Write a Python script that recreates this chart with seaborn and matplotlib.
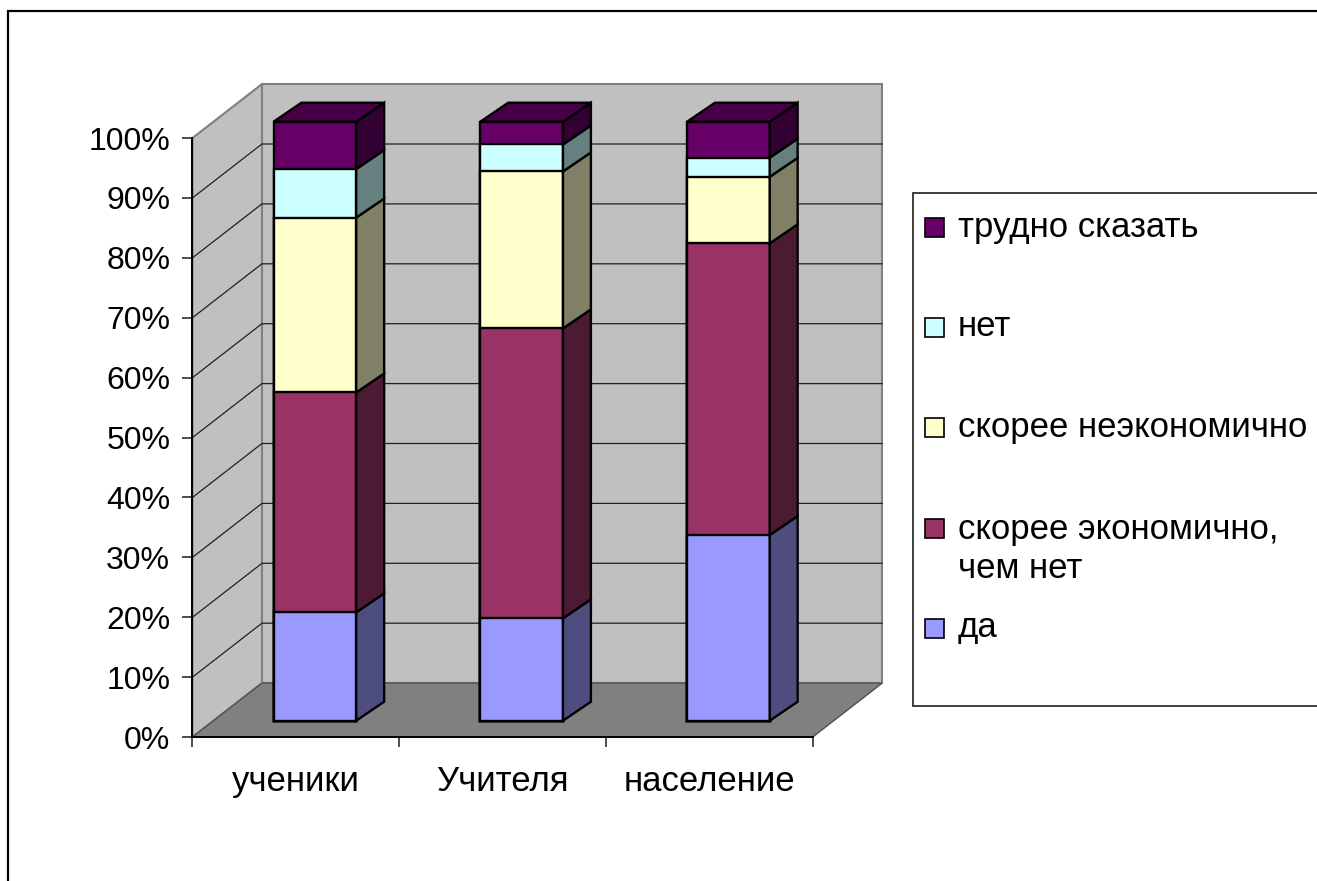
import matplotlib
matplotlib.use("Agg")
import matplotlib.pyplot as plt
import numpy as np
import seaborn as sns
from matplotlib.patches import Polygon, Rectangle

# --- data (percent of respondents) ---
categories = ["ученики", "Учителя", "население"]
series_names = ["да", "скорее экономично,\nчем нет", "скорее неэкономично", "нет", "трудно сказать"]
da = [18.1, 17.1, 31.0]
ekonomichno = [36.7, 48.4, 48.7]
neekonomichno = [29.2, 26.2, 11.1]
net = [8.1, 4.5, 3.2]
trudno = [7.9, 3.8, 6.0]
y_ticks = list(range(0, 101, 10))

# Excel 2003 style palette: front, side faces
front_colors = ["#9999ff", "#993366", "#ffffcc", "#ccffff", "#660066"]
side_colors = ["#4d4d80", "#4d1a33", "#808066", "#668080", "#330033"]
top_color = "#470046"

# --- pseudo 3d geometry in data units ---
BAR_W = 0.4
DEPTH_DX, DEPTH_DY = 0.135, 3.17      # bar depth
FRONT_X0, FRONT_Y0 = -0.592, -2.72    # front corner of the box
WALL_DX, WALL_DY = 0.336, 9.0         # box depth

sns.set_style("white")
plt.rcParams["font.family"] = ["Liberation Sans", "DejaVu Sans"]
plt.rcParams["text.color"] = "black"

fig = plt.figure(figsize=(13.17, 8.81), dpi=100)
ax = fig.add_axes([0, 0, 1, 1])
ax.set_facecolor("none")

values = np.array([da, ekonomichno, neekonomichno, net, trudno], dtype=float)
pct = values / values.sum(axis=0) * 100
tops = pct.cumsum(axis=0)
bottoms = tops - pct

fl, fr = FRONT_X0, FRONT_X0 + len(categories)
bl, br = fl + WALL_DX, fr + WALL_DX
fb, bb = FRONT_Y0, FRONT_Y0 + WALL_DY

# walls and floor
ax.add_patch(Rectangle((bl, bb), br - bl, 100, facecolor="#c0c0c0",
                       edgecolor="#808080", lw=1.5, zorder=0))
ax.add_patch(Polygon([(fl, fb), (bl, bb), (bl, bb + 100), (fl, fb + 100)],
                     closed=True, facecolor="#c0c0c0", edgecolor="#808080", lw=1.5, zorder=0))
ax.add_patch(Polygon([(fl, fb), (fr, fb), (br, bb), (bl, bb)],
                     closed=True, facecolor="#808080", edgecolor="#505050", lw=1.0, zorder=0.5))
for t in y_ticks[1:-1]:
    ax.plot([fl, bl, br], [fb + t, bb + t, bb + t], color="#202020", lw=0.9, zorder=1)

# front faces: overlapping cumulative bars, tallest first
for k in range(len(series_names) - 1, -1, -1):
    sns.barplot(x=categories, y=tops[k], color=front_colors[k], saturation=1,
                width=BAR_W, edgecolor="black", linewidth=1.7, errorbar=None,
                ax=ax, zorder=3)

# side and top faces
for i in range(len(categories)):
    xl, xr = i - BAR_W / 2, i + BAR_W / 2
    for k in range(len(series_names)):
        b, t = bottoms[k, i], tops[k, i]
        ax.add_patch(Polygon([(xr, b), (xr + DEPTH_DX, b + DEPTH_DY),
                              (xr + DEPTH_DX, t + DEPTH_DY), (xr, t)],
                             closed=True, facecolor=side_colors[k],
                             edgecolor="black", lw=1.7, zorder=3))
    t = tops[-1, i]
    ax.add_patch(Polygon([(xl, t), (xl + DEPTH_DX, t + DEPTH_DY),
                          (xr + DEPTH_DX, t + DEPTH_DY), (xr, t)],
                         closed=True, facecolor=top_color,
                         edgecolor="black", lw=1.7, zorder=3))

ax.set_xlim(-1.523, 4.847)
ax.set_ylim(-26.76, 120.32)

# axes on the front plane of the box
for side in ["top", "right"]:
    ax.spines[side].set_visible(False)
ax.spines["left"].set_position(("data", fl))
ax.spines["left"].set_bounds(fb, fb + 100)
ax.spines["bottom"].set_position(("data", fb))
ax.spines["bottom"].set_bounds(fl, fr)
for side in ["left", "bottom"]:
    ax.spines[side].set_color("black")
    ax.spines[side].set_linewidth(1.4)
    ax.spines[side].set_zorder(2)

ax.set_yticks([fb + t for t in y_ticks], [f"{t}%" for t in y_ticks])
ax.set_xticks([fl + i for i in range(len(categories) + 1)], [""] * (len(categories) + 1))
ax.set_xticks([fl + i + 0.5 for i in range(len(categories))], categories, minor=True)
ax.tick_params(axis="y", length=7, width=1.2, color="#303030", pad=9,
               labelsize=23, labelcolor="black", left=True, direction="out")
ax.tick_params(axis="x", which="major", length=7.5, width=1.2, color="#303030",
               bottom=True, direction="out")
ax.tick_params(axis="x", which="minor", length=0, pad=20, labelsize=25,
               labelcolor="black")
ax.set_xlabel("")
ax.set_ylabel("")

# legend box (Excel style, entries evenly spaced)
px = lambda x, y: (x / 1317, 1 - y / 881)
lx0, ly0 = px(913, 706)
ax_leg_w = (1320 - 913) / 1317
ax_leg_h = (706 - 193) / 881
fig.patches.append(Rectangle((lx0, ly0), ax_leg_w, ax_leg_h, transform=fig.transFigure,
                             facecolor="white", edgecolor="#303030", lw=1.3))
row_y = [227, 327, 428, 528, 628]
line_px = 42
for row, k in enumerate(range(len(series_names) - 1, -1, -1)):
    y = row_y[row]
    sx, sy = px(925, y + 9.5)
    fig.patches.append(Rectangle((sx, sy), 19 / 1317, 19 / 881, transform=fig.transFigure,
                                 facecolor=front_colors[k], edgecolor="black", lw=1.2))
    n_lines = series_names[k].count("\n") + 1
    tx, ty = px(958, y + (n_lines - 1) * line_px / 2)
    fig.text(tx, ty, series_names[k], fontsize=25, va="center", ha="left",
             linespacing=1.2, color="black")

# outer chart border
fig.patches.append(Rectangle((8 / 1317, -0.1), 1.1, 1.1 - 11 / 881, transform=fig.transFigure,
                             fill=False, edgecolor="black", lw=1.6))

fig.savefig("out.png", dpi=100)
